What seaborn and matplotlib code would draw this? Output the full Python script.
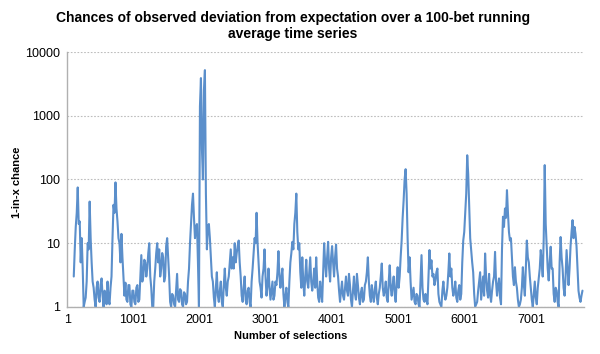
import numpy as np
import pandas as pd
import matplotlib
matplotlib.use("Agg")
import matplotlib.pyplot as plt
import seaborn as sns
from matplotlib.ticker import FixedLocator, FixedFormatter, NullLocator

# running average starts at bet 100, one reading every 15 selections
START = 100
STEP = 15

chance = [
    3, 8, 18, 30, 75, 20, 22, 5, 12, 4, 1, 1.2, 1.4, 2.5, 10, 8, 45, 12, 5, 2.5,               # 100-385
    2, 1.3, 1, 2, 2.5, 1.4, 1.2, 2.2, 2.8, 1.5, 1, 1.8, 1.6, 1.1, 2.5, 1.3, 1.1, 2, 3, 12,     # 400-685
    40, 30, 90, 35, 22, 12, 10, 5, 14, 6, 3, 1.5, 2.4, 1.3, 1.2, 2.2, 2.2, 1.1, 1, 1.8,        # 700-985
    1.8, 1.2, 1.1, 2, 2.2, 1.2, 1.3, 3, 6.5, 2.5, 3, 5.5, 5, 3, 4, 7, 10, 3, 2, 1,             # 1000-1285
    1, 2.5, 4, 7, 10, 5, 8, 3, 4, 7, 6, 2.5, 3, 9, 12, 6, 3, 1.2, 1, 1.6,                      # 1300-1585
    1.5, 1.1, 1, 1.8, 3.3, 1.3, 1.2, 1.9, 1.8, 1.1, 1, 1.7, 1.6, 1.1, 1.2, 2.5, 4, 10, 20, 40, # 1600-1885
    60, 25, 12, 18, 20, 5, 1, 1400, 3900, 300, 100, 2500, 5200, 60, 8, 18, 20, 12, 6, 3,       # 1900-2185
    2.5, 1.4, 1, 2, 3.5, 1.5, 1.2, 1.8, 2.5, 1.2, 1, 2.2, 4, 2, 1.5, 2.5, 3, 5, 8, 4,          # 2200-2485
    6, 4, 10, 5, 7, 9, 11, 5, 3, 1.5, 1.2, 2, 3, 1.3, 1.1, 1.8, 2, 1.2, 1, 2.5,                # 2500-2785
    4, 7, 12, 10, 30, 10, 5, 2.5, 2, 1.4, 3, 4, 8, 3, 1.5, 2.2, 4, 2, 1.3, 1.8,                # 2800-3085
    2.5, 1.3, 1.5, 2.5, 2.2, 3.5, 7.5, 3, 2, 3, 4, 1.6, 1, 1.5, 2, 1.2, 1, 2.5, 5, 7,          # 3100-3385
    10.5, 8, 20, 30, 60, 15, 8, 10, 3.5, 2, 6, 2.5, 1.5, 3, 5.5, 2.5, 2, 3.5, 6, 2.5,          # 3400-3685
    1.8, 2.5, 4, 2, 6, 2.5, 1.4, 1.2, 2.5, 1.6, 1.2, 3.5, 10, 5, 3, 6, 10.5, 4, 2.5, 6,        # 3700-3985
    9, 5, 3, 6, 9.5, 4, 3, 1.8, 1.2, 1.8, 2.5, 1.5, 1.3, 2, 3, 1.8, 1.5, 3.3, 2.2, 1.3,        # 4000-4285
    1, 1.8, 3, 1.6, 1.3, 3.3, 2.2, 1.4, 1.1, 1.7, 2, 1.2, 1.3, 2.2, 2.5, 3.5, 6, 2.5, 1.5, 1.2, # 4300-4585
    2.2, 1.5, 1.2, 1.9, 2.5, 1.4, 1.1, 1.6, 2, 3, 4.8, 2, 1.5, 1.8, 2.5, 1.4, 1.2, 2.5, 4.5, 2, # 4600-4885
    1.5, 2.2, 3, 1.6, 1.2, 2.5, 4.2, 2, 3, 6, 11, 25, 47, 100, 145, 60, 12, 3.5, 6, 2.5,       # 4900-5185
    1.3, 1.6, 2, 1.2, 1.1, 1.6, 1.5, 1.1, 1, 2.5, 6.5, 2, 1.3, 1.2, 1.6, 1.3, 1.1, 3, 7.8, 4,  # 5200-5485
    5.4, 3, 3.3, 2.2, 2.6, 3.5, 4, 1.6, 1.2, 1.1, 1, 1.8, 2.5, 1.6, 1.3, 1.5, 2, 3.5, 6.9, 3,  # 5500-5785
    4, 2, 1.5, 1.8, 2.5, 1.4, 1.2, 1.8, 2.2, 1.3, 1.6, 5, 11, 15, 29, 60, 240, 120, 37, 12,    # 5800-6085
    7.8, 5, 3.5, 1.6, 1, 1.1, 1.2, 1.8, 2.5, 3.5, 1.3, 2, 3, 1.5, 6.9, 3, 1.8, 1.4, 3.3, 1.6,  # 6100-6385
    1.2, 1.8, 2.5, 3, 7.3, 2.5, 1.5, 2.2, 2.8, 1.4, 1.1, 8, 26, 18, 35, 25, 68, 30, 15, 11,    # 6400-6685
    12, 6, 3, 2.2, 4.2, 2.5, 2, 1.3, 1, 1.1, 1.3, 2, 4.2, 2.2, 1.5, 4, 11, 6, 5, 3,            # 6700-6985
    2, 1.3, 1, 1.6, 2.5, 1.4, 1.1, 2, 2.8, 4, 7.8, 5, 3, 12, 168, 20, 9, 4, 2.6, 5,            # 7000-7285
    8.8, 4, 4, 1.6, 1.2, 2, 1.8, 1.2, 1, 5, 12.5, 6, 4, 2, 1.5, 3, 7.8, 4, 2.2, 4,             # 7300-7585
    9, 15, 23, 12, 18, 14, 9, 4, 1.8, 1.4, 1.2, 1.5, 1.8,                                      # 7600-7780
]
selections = [START + STEP * i for i in range(len(chance))]

x_ticks = [1, 1001, 2001, 3001, 4001, 5001, 6001, 7001]
y_ticks = [1, 10, 100, 1000, 10000]

df = pd.DataFrame({"selection": selections, "chance": chance})

sns.set_theme(style="white")
plt.rcParams["font.family"] = ["Liberation Sans", "DejaVu Sans"]
plt.rcParams["text.color"] = "black"
plt.rcParams["axes.labelcolor"] = "black"
plt.rcParams["xtick.color"] = "black"
plt.rcParams["ytick.color"] = "black"

fig = plt.figure(figsize=(6, 3.54), dpi=100)
ax = fig.add_axes([0.112, 0.133, 0.861, 0.72])

sns.lineplot(data=df, x="selection", y="chance", ax=ax,
             color="#5b8fcb", linewidth=1.5)

ax.set_yscale("log")
ax.set_ylim(1, 10000)
ax.set_xlim(1, 7800)

ax.yaxis.set_major_locator(FixedLocator(y_ticks))
ax.yaxis.set_major_formatter(FixedFormatter([str(v) for v in y_ticks]))
ax.yaxis.set_minor_locator(NullLocator())
ax.set_xticks(x_ticks)
ax.set_xticklabels([str(v) for v in x_ticks])

ax.yaxis.grid(True, color="#bdbdbd", linestyle=(0, (1.5, 1.5)), linewidth=0.8)
ax.xaxis.grid(False)
for side in ["top", "right"]:
    ax.spines[side].set_visible(False)
for side in ["left", "bottom"]:
    ax.spines[side].set_color("#b0b0b0")
    ax.spines[side].set_linewidth(1.0)

ax.tick_params(axis="y", length=3, color="#b0b0b0", labelcolor="black", labelsize=9, pad=2)
ax.tick_params(axis="x", length=0, labelcolor="black", labelsize=9, pad=5)

ax.set_xlabel("Number of selections", fontsize=8, fontweight="bold", labelpad=2)
ax.xaxis.set_label_coords(0.433, -0.095)
ax.set_ylabel("1-in-x chance", fontsize=8, fontweight="bold")
ax.yaxis.set_label_coords(-0.087, 0.49)
ax.set_title("Chances of observed deviation from expectation over a 100-bet running\naverage time series",
             fontsize=10, fontweight="bold", pad=10, x=0.437)

fig.savefig("out.png", dpi=100, facecolor="white")
